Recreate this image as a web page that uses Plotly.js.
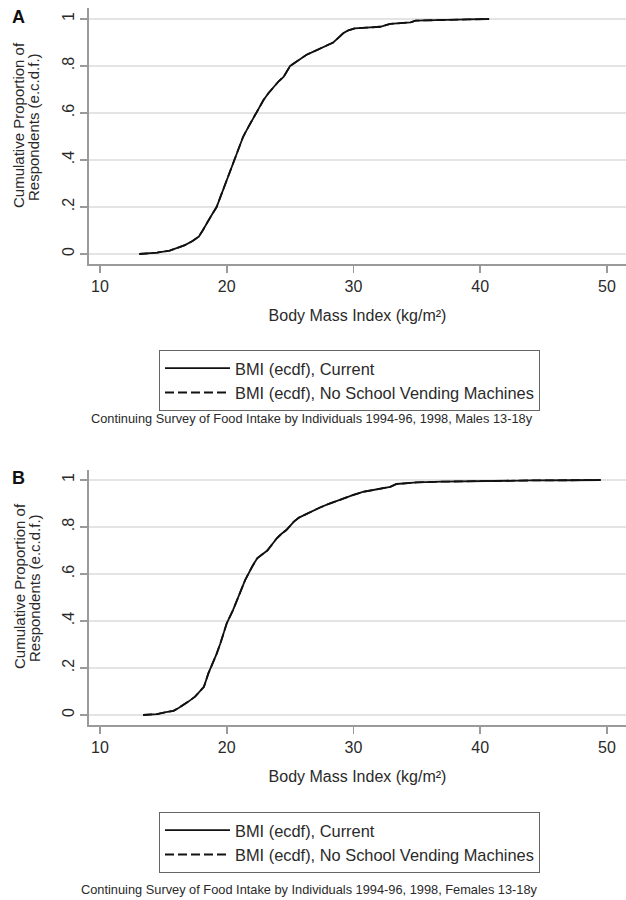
<!DOCTYPE html>
<html>
<head>
<meta charset="utf-8">
<script src="https://cdn.plot.ly/plotly-3.0.1.min.js"></script>
<style>
html,body{margin:0;padding:0;background:#fff;}
#chart{width:626px;height:900px;}
</style>
</head>
<body>
<div id="chart"></div>
<script>
// Panel A: Males 13-18y
const bmiMalesX = [13.1,14.5,15.5,16.2,16.7,17.3,17.8,18.1,18.4,18.8,19.2,19.7,20.0,20.3,20.65,21.0,21.3,21.7,22.1,22.5,22.9,23.3,23.7,24.1,24.5,24.8,25.0,25.4,25.8,26.3,26.8,27.4,27.9,28.4,28.8,29.2,29.6,30.1,31.0,32.1,32.9,33.8,34.5,34.9,36.0,37.6,39.0,40.7];
const ecdfMalesCurrent = [0.0,0.006,0.014,0.028,0.038,0.055,0.074,0.10,0.13,0.165,0.20,0.27,0.315,0.36,0.41,0.455,0.50,0.54,0.58,0.62,0.655,0.685,0.71,0.735,0.755,0.78,0.80,0.815,0.83,0.848,0.86,0.875,0.888,0.90,0.92,0.94,0.952,0.96,0.963,0.967,0.979,0.983,0.986,0.993,0.995,0.997,0.998,1.0];
const ecdfMalesNoVending = [0.0,0.006,0.014,0.028,0.038,0.055,0.074,0.10,0.13,0.165,0.20,0.27,0.315,0.36,0.41,0.455,0.50,0.54,0.58,0.62,0.655,0.685,0.71,0.735,0.755,0.78,0.80,0.815,0.83,0.848,0.86,0.875,0.888,0.90,0.92,0.94,0.952,0.96,0.963,0.967,0.979,0.983,0.986,0.993,0.995,0.997,0.998,1.0];

// Panel B: Females 13-18y
const bmiFemalesX = [13.4,14.5,15.2,15.8,16.2,16.6,17.0,17.5,17.9,18.2,18.55,18.9,19.2,19.5,19.75,20.0,20.5,21.05,21.45,22.0,22.4,23.2,23.6,23.95,24.3,24.7,25.0,25.3,25.7,26.1,26.8,27.4,28.0,28.6,29.2,30.0,30.8,31.8,32.9,33.4,35.0,37.0,39.0,41.6,44.0,47.0,49.5];
const ecdfFemalesCurrent = [0.0,0.004,0.012,0.018,0.03,0.043,0.058,0.078,0.10,0.12,0.177,0.22,0.26,0.305,0.35,0.39,0.447,0.518,0.574,0.631,0.667,0.70,0.73,0.752,0.77,0.787,0.805,0.823,0.84,0.851,0.869,0.884,0.897,0.91,0.922,0.937,0.95,0.96,0.971,0.983,0.99,0.993,0.995,0.996,0.998,0.999,1.0];
const ecdfFemalesNoVending = [0.0,0.004,0.012,0.018,0.03,0.043,0.058,0.078,0.10,0.12,0.177,0.22,0.26,0.305,0.35,0.39,0.447,0.518,0.574,0.631,0.667,0.70,0.73,0.752,0.77,0.787,0.805,0.823,0.84,0.851,0.869,0.884,0.897,0.91,0.922,0.937,0.95,0.96,0.971,0.983,0.99,0.993,0.995,0.996,0.998,0.999,1.0];

const xTickVals = [10,20,30,40,50];
const xTickText = ['10','20','30','40','50'];
const yTickVals = [0,0.2,0.4,0.6,0.8,1];
const yTickText = ['0','.2','.4','.6','.8','1'];
const seriesNames = ['BMI (ecdf), Current','BMI (ecdf), No School Vending Machines'];
const xTitle = 'Body Mass Index (kg/m²)';
const yTitleLines = ['Cumulative Proportion of','Respondents (e.c.d.f.)'];
const footnotes = ['Continuing Survey of Food Intake by Individuals 1994-96, 1998, Males 13-18y',
                   'Continuing Survey of Food Intake by Individuals 1994-96, 1998, Females 13-18y'];
const panelLabels = ['A','B'];

const FONT = 'Liberation Sans, Arial, Helvetica, sans-serif';
const TXT = '#2a2a2a';
const AX = '#9a9a9a';
const W = 626, H = 900;
const py = Y => 1 - Y / H;

function traces(x, yCur, yNo, xa, ya, leg) {
  return [
    {x: x, y: yNo, xaxis: xa, yaxis: ya, type: 'scatter', mode: 'lines', name: seriesNames[1],
     legend: leg, legendrank: 2, line: {color: '#111', width: 1.8, dash: '9px,4px'}, hoverinfo: 'skip'},
    {x: x, y: yCur, xaxis: xa, yaxis: ya, type: 'scatter', mode: 'lines', name: seriesNames[0],
     legend: leg, legendrank: 1, line: {color: '#111', width: 1.8}, hoverinfo: 'skip'}
  ];
}

const data = [].concat(
  traces(bmiMalesX, ecdfMalesCurrent, ecdfMalesNoVending, 'x', 'y', 'legend'),
  traces(bmiFemalesX, ecdfFemalesCurrent, ecdfFemalesNoVending, 'x2', 'y2', 'legend2')
);

function xaxis(anchor) {
  return {
    anchor: anchor, domain: [89 / W, 1], range: [9.132, 51.5],
    tickvals: xTickVals, ticktext: xTickText, ticks: 'outside', ticklen: 7, tickwidth: 1.5, tickcolor: AX,
    showline: true, linecolor: AX, linewidth: 2, showgrid: false, zeroline: false,
    tickfont: {family: FONT, size: 16, color: TXT},
    title: {text: xTitle, font: {family: FONT, size: 16, color: TXT}, standoff: 16}
  };
}
function yaxis(anchor, top, bot, yZeroPx, yOnePx) {
  const per = (yZeroPx - yOnePx);
  return {
    anchor: anchor, domain: [py(bot), py(top)],
    range: [(yZeroPx - bot) / per, (yZeroPx - top) / per],
    tickvals: yTickVals, ticktext: yTickText, tickangle: -90,
    ticks: 'outside', ticklen: 7, tickwidth: 1.5, tickcolor: AX,
    showline: true, linecolor: AX, linewidth: 2,
    showgrid: true, gridcolor: '#e4e4e4', gridwidth: 1.5, zeroline: false,
    tickfont: {family: FONT, size: 16, color: TXT}
  };
}

const legendBase = {
  xanchor: 'left', yanchor: 'top', x: 159 / W,
  bordercolor: '#666', borderwidth: 1, bgcolor: '#fff',
  font: {family: FONT, size: 16.4, color: TXT},
  itemwidth: 65, traceorder: 'normal', tracegroupgap: 0
};

const annotations = [];
const panelTop = [0, 461];
panelTop.forEach((dy, i) => {
  annotations.push({xref: 'paper', yref: 'paper', x: 18 / W, y: py(17 + dy), text: '<b>' + panelLabels[i] + '</b>',
    showarrow: false, xanchor: 'center', yanchor: 'middle', font: {family: FONT, size: 18, color: '#111'}});
  annotations.push({xref: 'paper', yref: 'paper', x: 19 / W, y: py(125 + dy), text: yTitleLines[0], textangle: -90,
    showarrow: false, xanchor: 'center', yanchor: 'middle', font: {family: FONT, size: 15, color: TXT}});
  annotations.push({xref: 'paper', yref: 'paper', x: 34 / W, y: py(127 + dy), text: yTitleLines[1], textangle: -90,
    showarrow: false, xanchor: 'center', yanchor: 'middle', font: {family: FONT, size: 15, color: TXT}});
});
annotations.push({xref: 'paper', yref: 'paper', x: 312 / W, y: py(419), text: footnotes[0],
  showarrow: false, xanchor: 'center', yanchor: 'middle', font: {family: FONT, size: 12.8, color: TXT}});
annotations.push({xref: 'paper', yref: 'paper', x: 309 / W, y: py(889), text: footnotes[1],
  showarrow: false, xanchor: 'center', yanchor: 'middle', font: {family: FONT, size: 12.8, color: TXT}});

const layout = {
  width: W, height: H,
  margin: {l: 0, r: 0, t: 0, b: 0},
  paper_bgcolor: '#fff', plot_bgcolor: '#fff',
  showlegend: true,
  xaxis: xaxis('y'),
  yaxis: yaxis('x', 8, 263.5, 254, 19),
  xaxis2: xaxis('y2'),
  yaxis2: yaxis('x2', 470, 725, 715, 480),
  legend: Object.assign({}, legendBase, {y: py(350)}),
  legend2: Object.assign({}, legendBase, {y: py(812)}),
  annotations: annotations
};

Plotly.newPlot('chart', data, layout, {displayModeBar: false, staticPlot: true});
</script>
</body>
</html>
